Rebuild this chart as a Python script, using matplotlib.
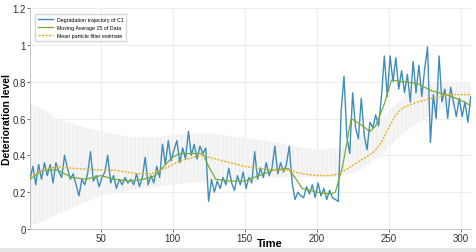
import numpy as np
import matplotlib
matplotlib.use('Agg')
import matplotlib.pyplot as plt
from matplotlib.patches import Rectangle

plt.rcParams['font.family'] = ['Liberation Sans', 'DejaVu Sans']
plt.rcParams['hatch.linewidth'] = 0.3

# 退化轨迹 (每隔2个时间步读取)
time_c1 = np.arange(1, 308, 2)
trajectory_c1 = [
    0.27, 0.34, 0.24, 0.35, 0.27, 0.36, 0.29, 0.35, 0.25, 0.36,
    0.31, 0.28, 0.40, 0.33, 0.27, 0.30, 0.24, 0.18, 0.27, 0.24,
    0.30, 0.42, 0.26, 0.29, 0.23, 0.28, 0.31, 0.40, 0.25, 0.29,
    0.22, 0.27, 0.24, 0.28, 0.25, 0.27, 0.24, 0.30, 0.23, 0.28,
    0.39, 0.24, 0.29, 0.25, 0.34, 0.28, 0.46, 0.35, 0.48, 0.37,
    0.43, 0.48, 0.36, 0.44, 0.38, 0.53, 0.40, 0.46, 0.38, 0.45,
    0.41, 0.44, 0.15, 0.27, 0.20, 0.26, 0.22, 0.28, 0.24, 0.33,
    0.25, 0.21, 0.29, 0.24, 0.31, 0.22, 0.28, 0.25, 0.42, 0.27,
    0.33, 0.28, 0.36, 0.29, 0.33, 0.45, 0.30, 0.36, 0.31, 0.35,
    0.45, 0.25, 0.16, 0.20, 0.18, 0.17, 0.23, 0.19, 0.24, 0.17,
    0.25, 0.18, 0.22, 0.16, 0.21, 0.17, 0.16, 0.15, 0.64, 0.83,
    0.50, 0.41, 0.74, 0.55, 0.49, 0.71, 0.51, 0.43, 0.58, 0.55,
    0.62, 0.56, 0.72, 0.94, 0.72, 0.94, 0.80, 0.93, 0.76, 0.86,
    0.74, 0.84, 0.69, 0.91, 0.74, 0.89, 0.72, 0.87, 0.99, 0.47,
    0.73, 0.60, 0.94, 0.69, 0.76, 0.60, 0.77, 0.69, 0.61, 0.71,
    0.61, 0.69, 0.58, 0.72,
]

# 15点滑动平均
ma_time = [1, 10, 20, 30, 40, 50, 60, 70, 80, 88, 95, 100, 105, 115, 121, 125,
           130, 140, 150, 160, 170, 180, 185, 190, 200, 210, 213, 218, 224, 230,
           237, 241, 247, 252, 260, 270, 280, 290, 300, 307]
ma_value = [0.27, 0.32, 0.32, 0.28, 0.27, 0.29, 0.27, 0.26, 0.27, 0.29, 0.35, 0.39,
            0.41, 0.41, 0.41, 0.34, 0.27, 0.26, 0.26, 0.29, 0.32, 0.33, 0.28, 0.22,
            0.20, 0.19, 0.20, 0.34, 0.60, 0.57, 0.53, 0.56, 0.68, 0.81, 0.80, 0.79,
            0.75, 0.73, 0.70, 0.67]

# 粒子滤波均值估计
pf_time = [1, 10, 20, 30, 50, 60, 75, 85, 95, 105, 115, 120, 125, 135, 150, 170,
           180, 190, 200, 210, 215, 222, 230, 240, 245, 250, 255, 260, 270, 280,
           290, 300, 307]
pf_mean = [0.28, 0.32, 0.34, 0.33, 0.32, 0.32, 0.30, 0.30, 0.33, 0.37, 0.39, 0.40,
           0.39, 0.37, 0.34, 0.32, 0.32, 0.30, 0.29, 0.29, 0.30, 0.33, 0.37, 0.42,
           0.47, 0.55, 0.62, 0.66, 0.69, 0.71, 0.73, 0.73, 0.73]

# 粒子云范围
cloud_time = [1, 10, 20, 35, 50, 70, 90, 110, 125, 145, 165, 185, 200, 215, 230,
              245, 260, 275, 290, 307]
cloud_low = [0.02, 0.04, 0.08, 0.13, 0.18, 0.21, 0.23, 0.25, 0.26, 0.27, 0.28,
             0.28, 0.28, 0.28, 0.32, 0.40, 0.52, 0.60, 0.66, 0.68]
cloud_high = [0.68, 0.65, 0.60, 0.56, 0.53, 0.50, 0.50, 0.52, 0.52, 0.50, 0.48,
              0.45, 0.43, 0.44, 0.50, 0.60, 0.72, 0.78, 0.80, 0.80]

fig = plt.figure(figsize=(4.76, 2.53), dpi=100)
ax = fig.add_axes([0.063, 0.091, 0.926, 0.873])

ax.fill_between(cloud_time, cloud_low, cloud_high, facecolor='#f5f5f5',
                edgecolor='#e3e3e3', hatch='||||', linewidth=0, zorder=1)

ax.plot(time_c1, trajectory_c1, color='#3f8cbf', linewidth=1.0,
        label='Degradation trajectory of C1', zorder=3)
ax.plot(ma_time, ma_value, color='#77ac30', linewidth=0.9,
        label='Moving Average 15 of Data', zorder=4)
ax.plot(pf_time, pf_mean, color='#e8b020', linewidth=1.0, linestyle=(0, (1.5, 1)),
        label='Mean particle filter estimate', zorder=4)

ax.set_xlim(1, 307)
ax.set_ylim(0, 1.2)
ax.set_xticks([50, 100, 150, 200, 250, 300])
ax.set_yticks([0, 0.2, 0.4, 0.6, 0.8, 1, 1.2])
ax.set_yticklabels(['0', '0.2', '0.4', '0.6', '0.8', '1', '1.2'])
ax.tick_params(labelsize=7, colors='#333333', length=2, width=0.5, pad=1)
ax.grid(True, color='#e6e6e6', linewidth=0.5)
ax.set_axisbelow(True)
for side in ['top', 'right']:
    ax.spines[side].set_visible(False)
for side in ['left', 'bottom']:
    ax.spines[side].set_color('#bbbbbb')
    ax.spines[side].set_linewidth(0.6)

ax.set_xlabel('Time', fontsize=8, fontweight='bold')
ax.xaxis.set_label_coords(0.545, -0.04)
ax.set_ylabel('Deterioration level', fontsize=7.5, fontweight='bold')
ax.yaxis.set_label_coords(-0.041, 0.5)

ax.legend(loc='upper left', fontsize=3.8, handlelength=2.8, frameon=True,
          fancybox=False, edgecolor='#cccccc', borderpad=0.5, labelspacing=0.6,
          bbox_to_anchor=(0.006, 0.985))

fig.patches.append(Rectangle((0, 0), 1, 0.016, transform=fig.transFigure,
                             facecolor='#e6e6e6', edgecolor='none'))

plt.savefig('out.png', dpi=100)
